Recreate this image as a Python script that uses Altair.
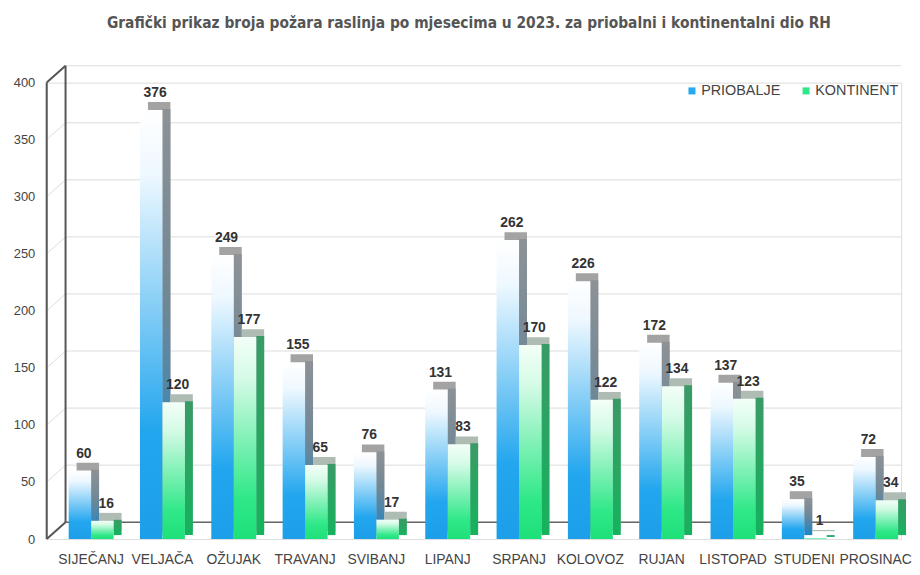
import altair as alt
import pandas as pd

# ---- data ----
months = ["SIJEČANJ", "VELJAČA", "OŽUJAK", "TRAVANJ", "SVIBANJ", "LIPANJ",
          "SRPANJ", "KOLOVOZ", "RUJAN", "LISTOPAD", "STUDENI", "PROSINAC"]
priobalje = [60, 376, 249, 155, 76, 131, 262, 226, 172, 137, 35, 72]
kontinent = [16, 120, 177, 65, 17, 83, 170, 122, 134, 123, 1, 34]
series_names = ["PRIOBALJE", "KONTINENT"]
y_ticks = [0, 50, 100, 150, 200, 250, 300, 350, 400]
title_text = "Grafički prikaz broja požara raslinja po mjesecima u 2023. za priobalni i kontinentalni dio RH"

# ---- layout / style ----
W, H = 861, 460
PAD_IN, PAD_OUT, ALIGN = 0.37, 0.175, 0.88
step = W / (len(months) - PAD_IN + 2 * PAD_OUT)
sub_w = step * (1 - PAD_IN) / 2
DX, DY = 8, 8      # bar depth
WX, WY = 19, 17    # wall depth
FONT = "Liberation Sans, Arial, sans-serif"
TFONT = "DejaVu Sans Condensed, Liberation Sans, sans-serif"


def grad(stops):
    return alt.Gradient(gradient="linear", x1=0, x2=0, y1=0, y2=1,
                        stops=[alt.GradientStop(offset=o, color=c) for o, c in stops])


styles = {
    "PRIOBALJE": dict(
        front=[(0, "#ffffff"), (0.15, "#eef8ff"), (0.75, "#22a6ee"), (1, "#1c9fe8")],
        side=[(0, "#8d9296"), (0.45, "#708796"), (1, "#1a86c8")],
        top="#a3a3a3", legend="#29a9ef", shift=-sub_w / 2),
    "KONTINENT": dict(
        front=[(0, "#f3fff8"), (0.2, "#d6fbe7"), (0.8, "#2fe888"), (1, "#1ee07a")],
        side=[(0, "#3a9a66"), (1, "#16b25e")],
        top="#aebcb3", legend="#2fe888", shift=sub_w / 2),
}

df = pd.DataFrame({
    "month": months * 2,
    "series": [s for s in series_names for _ in months],
    "value": priobalje + kontinent,
})

x_enc = alt.X("month:N", sort=months,
              scale=alt.Scale(paddingInner=PAD_IN, paddingOuter=PAD_OUT, align=ALIGN),
              axis=alt.Axis(title=None, labelAngle=0, domain=False, ticks=False,
                            labelPadding=14, labelFontSize=14, labelColor="#444",
                            labelFont=FONT))
y_scale = alt.Scale(domain=[0, 400], nice=False, zero=True)
y_axis = alt.Axis(title=None, values=y_ticks, grid=False, domain=False, ticks=False,
                  labelPadding=12, labelFontSize=13, labelColor="#444", labelFont=FONT)
y_enc = alt.Y("value:Q", scale=y_scale, axis=y_axis)

layers = []

# gridlines on the back wall + diagonal on side wall
grid_df = pd.DataFrame({"value": y_ticks})
layers.append(alt.Chart(grid_df).mark_rule(color="#dcdcdc", strokeWidth=1, yOffset=-WY)
              .encode(y=y_enc, x=alt.value(WX), x2=alt.value(W)))
layers.append(alt.Chart(grid_df).mark_rule(color="#dcdcdc", strokeWidth=1, y2Offset=-WY)
              .encode(y=y_enc, y2=alt.Y2("value:Q"), x=alt.value(0), x2=alt.value(WX)))

# walls / floor
wall_df = pd.DataFrame({"value": [0], "value2": [400]})
edge_df = pd.DataFrame({"value": [0, 400]})
layers.append(alt.Chart(wall_df).mark_rule(color="#666", strokeWidth=1.5, yOffset=-WY)
              .encode(y=y_enc, x=alt.value(WX), x2=alt.value(W)))
layers.append(alt.Chart(wall_df).mark_rule(color="#555", strokeWidth=2)
              .encode(y=y_enc, y2=alt.Y2("value2:Q"), x=alt.value(0)))
layers.append(alt.Chart(wall_df).mark_rule(color="#555", strokeWidth=2,
                                           yOffset=-WY, y2Offset=-WY)
              .encode(y=y_enc, y2=alt.Y2("value2:Q"), x=alt.value(WX)))
layers.append(alt.Chart(edge_df).mark_rule(color="#555", strokeWidth=2, y2Offset=-WY)
              .encode(y=y_enc, y2=alt.Y2("value:Q"), x=alt.value(0), x2=alt.value(WX)))

# bars with pseudo 3D depth
for s in series_names:
    st = styles[s]
    d = df[df["series"] == s]
    base = alt.Chart(d).encode(x=x_enc, y=y_enc, y2=alt.datum(0))
    sh = st["shift"]
    layers.append(base.mark_bar(color=st["top"], width=sub_w, xOffset=sh + DX,
                                yOffset=-DY, y2Offset=-DY))
    layers.append(base.mark_bar(color=grad(st["side"]), width=DX,
                                xOffset=sh + sub_w / 2 + DX / 2, yOffset=-1, y2Offset=-DY / 2))
    layers.append(base.mark_bar(color=grad(st["front"]), width=sub_w, xOffset=sh))
    layers.append(alt.Chart(d).mark_text(dy=-13, dx=sh + DX / 2, fontWeight="bold",
                                         fontSize=14, color="#333", font=FONT,
                                         baseline="alphabetic")
                  .encode(x=x_enc, y=y_enc, text="value:Q"))

# legend carrier (invisible marks)
layers.append(alt.Chart(df).mark_square(opacity=0).encode(
    color=alt.Color("series:N",
                    scale=alt.Scale(domain=series_names,
                                    range=[styles[s]["legend"] for s in series_names]),
                    legend=alt.Legend(title=None, orient="none", legendX=643, legendY=1,
                                      direction="horizontal", symbolType="square",
                                      symbolSize=50, symbolOpacity=1, symbolStrokeWidth=0,
                                      labelFontSize=14.5, labelFont=FONT, labelColor="#444",
                                      columnPadding=18, labelOffset=2))))

chart = alt.layer(*layers).properties(
    width=W, height=H,
    title=alt.TitleParams(title_text, fontSize=15.5, font=TFONT, fontWeight="bold",
                          color="#555", anchor="middle", offset=34, dx=-5),
    padding={"left": 5, "right": 0, "top": 5, "bottom": 2},
).configure_view(stroke=None).configure(background="white")

chart.save("out.html", embed_options={"renderer": "svg", "actions": False})
